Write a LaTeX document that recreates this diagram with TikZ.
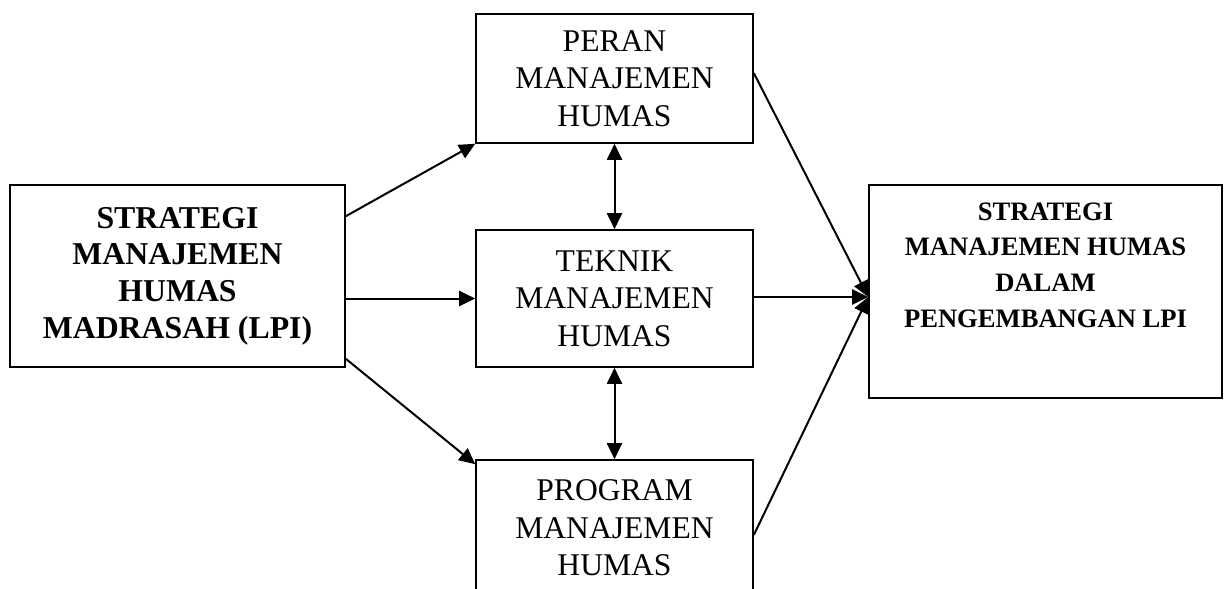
\documentclass[tikz,border=0pt]{standalone}
\usepackage{fontspec}
\setmainfont{Liberation Serif}
\usetikzlibrary{arrows.meta}

\begin{document}
\begin{tikzpicture}[x=0.5pt,y=-0.5pt,>={Triangle[length=8pt,width=7.5pt]},
    kotak/.style={draw,line width=0.8pt,inner sep=0pt,align=center,font=\fontsize{15.8}{18.75}\selectfont},
    panah/.style={->,line width=1pt}]
    \useasboundingbox (0,0) rectangle (1224,588);

    \node[kotak,minimum width=167.5pt,minimum height=91pt,font=\bfseries\fontsize{15.9}{18.3}\selectfont] (S) at (177.5,276) {STRATEGI\\MANAJEMEN\\HUMAS\\MADRASAH (LPI)};
    \node[kotak,minimum width=138.5pt,minimum height=64.5pt] (P) at (614.5,78.5) {PERAN\\MANAJEMEN\\HUMAS};
    \node[kotak,minimum width=138.5pt,minimum height=68.5pt] (T) at (614.5,298.5) {TEKNIK\\MANAJEMEN\\HUMAS};
    \node[kotak,minimum width=138.5pt,minimum height=68pt] (PR) at (614.5,528) {PROGRAM\\MANAJEMEN\\HUMAS};
    \node[kotak,minimum width=176.5pt,minimum height=106.5pt] (H) at (1045.5,291.5) {};
    \node[align=center,inner sep=0pt,font=\bfseries\fontsize{13.3}{17.8}\selectfont] (Ht) at ([yshift=13.25pt]H.center) {STRATEGI\\MANAJEMEN HUMAS\\DALAM\\PENGEMBANGAN LPI};
    \coordinate (Hin) at ([yshift=-2.75pt]H.west);

    \draw[panah] ([yshift=-16pt]S.north east) -- (P.south west);
    \draw[panah] (S.east |- T.west) -- (T.west);
    \draw[panah] ([yshift=4.5pt]S.south east) -- ([yshift=-2.5pt]PR.north west);

    \draw[panah,<->] (P) -- (T);
    \draw[panah,<->] (T) -- (PR);

    \draw[panah] ([yshift=2.75pt]P.east) -- (Hin);
    \draw[panah] (T.east |- Hin) -- (Hin);
    \draw[panah] ([yshift=-3.5pt]PR.east) -- (Hin);
\end{tikzpicture}
\end{document}
